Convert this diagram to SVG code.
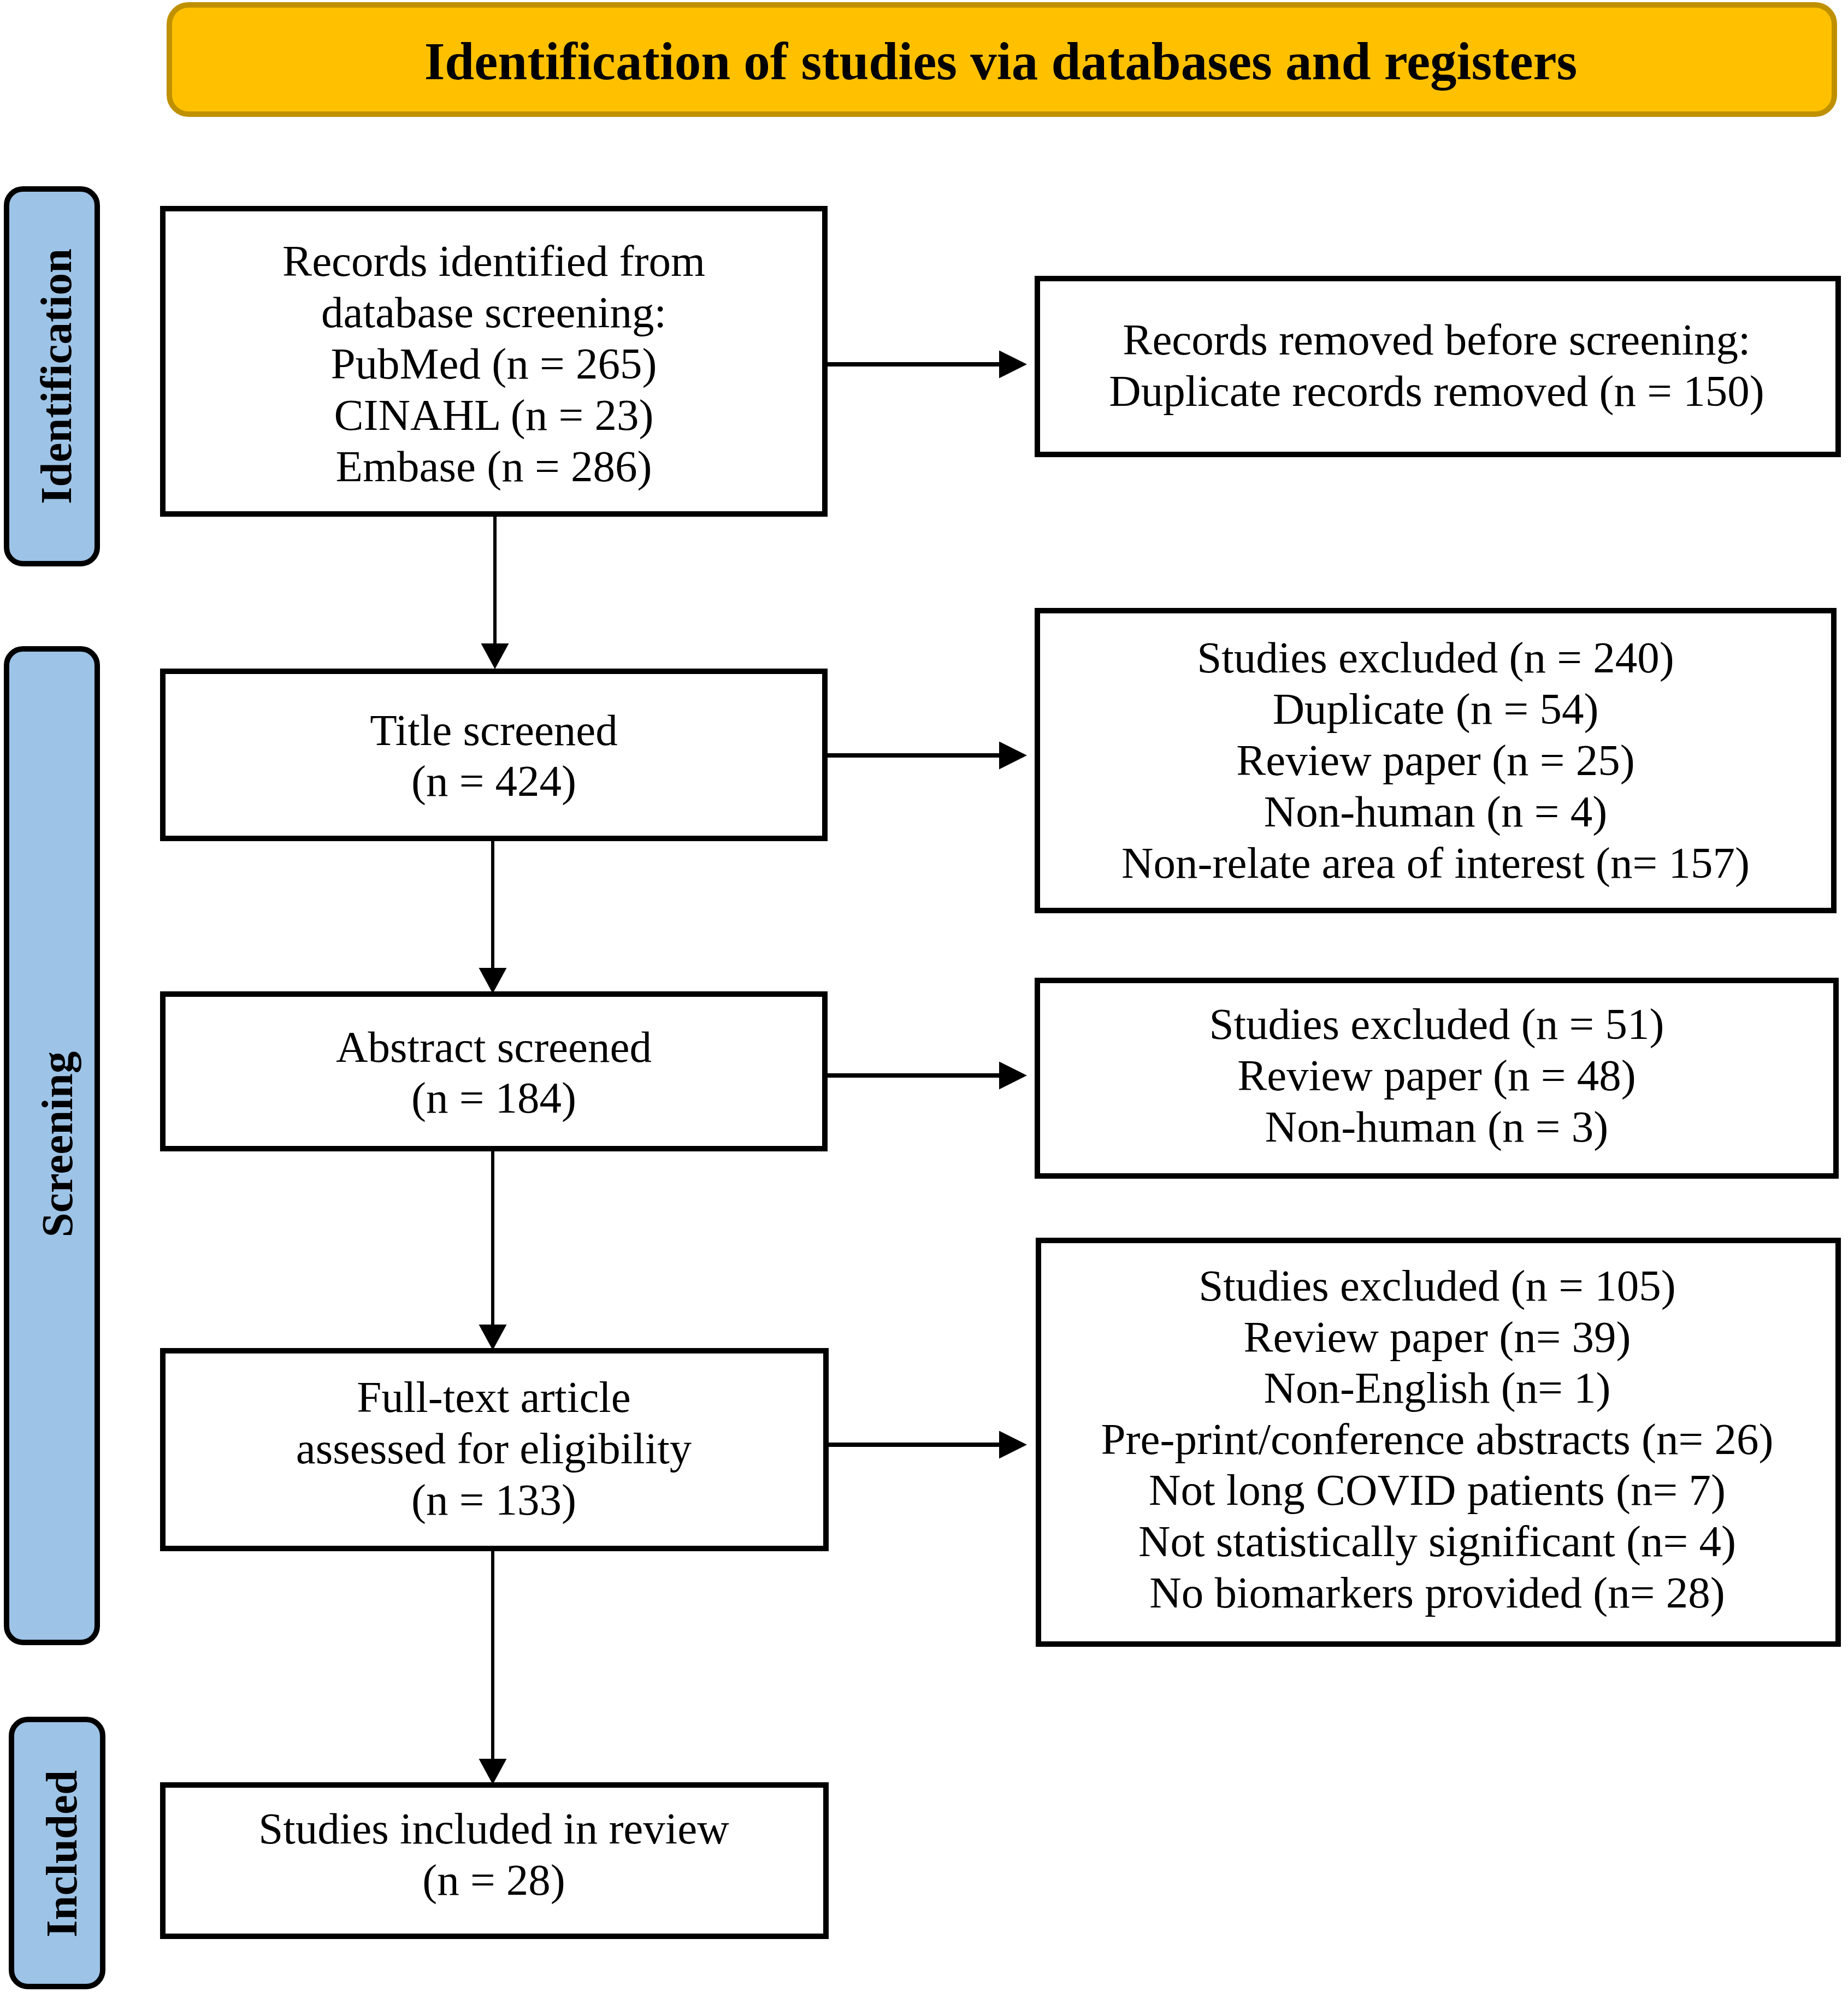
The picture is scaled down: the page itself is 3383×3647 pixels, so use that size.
<svg xmlns="http://www.w3.org/2000/svg" width="3383" height="3647" viewBox="0 0 3383 3647">
<defs>
<style>
.box{fill:#FFFFFF;stroke:#000000;stroke-width:10}
.side{fill:#9DC3E6;stroke:#000000;stroke-width:10}
.hdr{fill:#FFC000;stroke:#BF9000;stroke-width:10}
.t{font-family:"Liberation Serif","Times New Roman",serif;font-size:81px;fill:#000000;text-anchor:middle}
.st{font-family:"Liberation Serif","Times New Roman",serif;font-size:81px;font-weight:bold;fill:#000000;text-anchor:middle}
.ht{font-family:"Liberation Serif","Times New Roman",serif;font-size:97px;font-weight:bold;fill:#000000;text-anchor:middle}
.h{stroke:#000000;stroke-width:8;fill:none}
.v{stroke:#000000;stroke-width:6;fill:none}
</style>
<marker id="ah" markerUnits="userSpaceOnUse" markerWidth="52" markerHeight="52" refX="0" refY="25.5" orient="auto" viewBox="0 0 52 52">
<path d="M0,0 L51,25.5 L0,51 z" fill="#000000"/>
</marker>
<marker id="av" markerUnits="userSpaceOnUse" markerWidth="52" markerHeight="52" refX="0" refY="25.5" orient="auto" viewBox="0 0 52 52">
<path d="M0,0 L47,25.5 L0,51 z" fill="#000000"/>
</marker>
</defs>
<rect x="0" y="0" width="3383" height="3647" fill="#FFFFFF"/>

<g id="header">
<rect class="hdr" x="310" y="9" width="3048" height="200" rx="35" ry="35"/>
<text class="ht" x="1832" y="145">Identification of studies via databases and registers</text>
</g>

<g id="stage-identification">
<rect class="side" x="12" y="346" width="166" height="686" rx="30" ry="30"/>
<text class="st" transform="translate(130,689) rotate(-90)">Identification</text>
</g>
<g id="stage-screening">
<rect class="side" x="12" y="1188" width="166" height="1819" rx="30" ry="30"/>
<text class="st" transform="translate(132,2095) rotate(-90)">Screening</text>
</g>
<g id="stage-included">
<rect class="side" x="21" y="3148" width="167" height="489" rx="30" ry="30"/>
<text class="st" transform="translate(140,3394) rotate(-90)">Included</text>
</g>

<g id="connectors">
<line class="h" x1="1510" y1="667" x2="1829" y2="667" marker-end="url(#ah)"/>
<line class="h" x1="1510" y1="1383" x2="1829" y2="1383" marker-end="url(#ah)"/>
<line class="h" x1="1510" y1="1969" x2="1829" y2="1969" marker-end="url(#ah)"/>
<line class="h" x1="1512" y1="2645" x2="1829" y2="2645" marker-end="url(#ah)"/>
<line class="v" x1="906" y1="941" x2="906" y2="1178" marker-end="url(#av)"/>
<line class="v" x1="902" y1="1535" x2="902" y2="1772" marker-end="url(#av)"/>
<line class="v" x1="902" y1="2103" x2="902" y2="2425" marker-end="url(#av)"/>
<line class="v" x1="902" y1="2835" x2="902" y2="3220" marker-end="url(#av)"/>
</g>

<g id="records-identified">
<rect class="box" x="298" y="382" width="1212" height="559"/>
<text class="t" x="904" y="505">Records identified from</text>
<text class="t" x="904" y="599">database screening:</text>
<text class="t" x="904" y="693">PubMed (n = 265)</text>
<text class="t" x="904" y="787">CINAHL (n = 23)</text>
<text class="t" x="904" y="881">Embase (n = 286)</text>
</g>

<g id="records-removed">
<rect class="box" x="1899" y="510" width="1466" height="322"/>
<text class="t" x="2630" y="649">Records removed before screening:</text>
<text class="t" x="2630" y="743">Duplicate records removed (n = 150)</text>
</g>

<g id="title-screened">
<rect class="box" x="298" y="1229" width="1212" height="306"/>
<text class="t" x="904" y="1364">Title screened</text>
<text class="t" x="904" y="1457">(n = 424)</text>
</g>

<g id="excluded-title">
<rect class="box" x="1899" y="1118" width="1458" height="549"/>
<text class="t" x="2628" y="1231">Studies excluded (n = 240)</text>
<text class="t" x="2628" y="1325">Duplicate (n = 54)</text>
<text class="t" x="2628" y="1419">Review paper (n = 25)</text>
<text class="t" x="2628" y="1513">Non-human (n = 4)</text>
<text class="t" x="2628" y="1607">Non-relate area of interest (n= 157)</text>
</g>

<g id="abstract-screened">
<rect class="box" x="298" y="1820" width="1212" height="283"/>
<text class="t" x="904" y="1944">Abstract screened</text>
<text class="t" x="904" y="2037">(n = 184)</text>
</g>

<g id="excluded-abstract">
<rect class="box" x="1899" y="1795" width="1462" height="358"/>
<text class="t" x="2630" y="1902">Studies excluded (n = 51)</text>
<text class="t" x="2630" y="1996">Review paper (n = 48)</text>
<text class="t" x="2630" y="2090">Non-human (n = 3)</text>
</g>

<g id="full-text">
<rect class="box" x="298" y="2473" width="1214" height="362"/>
<text class="t" x="904" y="2585">Full-text article</text>
<text class="t" x="904" y="2679">assessed for eligibility</text>
<text class="t" x="904" y="2773">(n = 133)</text>
</g>

<g id="excluded-fulltext">
<rect class="box" x="1901" y="2271" width="1464" height="739"/>
<text class="t" x="2631" y="2381">Studies excluded (n = 105)</text>
<text class="t" x="2631" y="2475">Review paper (n= 39)</text>
<text class="t" x="2631" y="2568">Non-English (n= 1)</text>
<text class="t" x="2631" y="2662">Pre-print/conference abstracts (n= 26)</text>
<text class="t" x="2631" y="2755">Not long COVID patients (n= 7)</text>
<text class="t" x="2631" y="2849">Not statistically significant (n= 4)</text>
<text class="t" x="2631" y="2943">No biomarkers provided (n= 28)</text>
</g>

<g id="included">
<rect class="box" x="298" y="3268" width="1214" height="277"/>
<text class="t" x="904" y="3375">Studies included in review</text>
<text class="t" x="904" y="3469">(n = 28)</text>
</g>
</svg>
